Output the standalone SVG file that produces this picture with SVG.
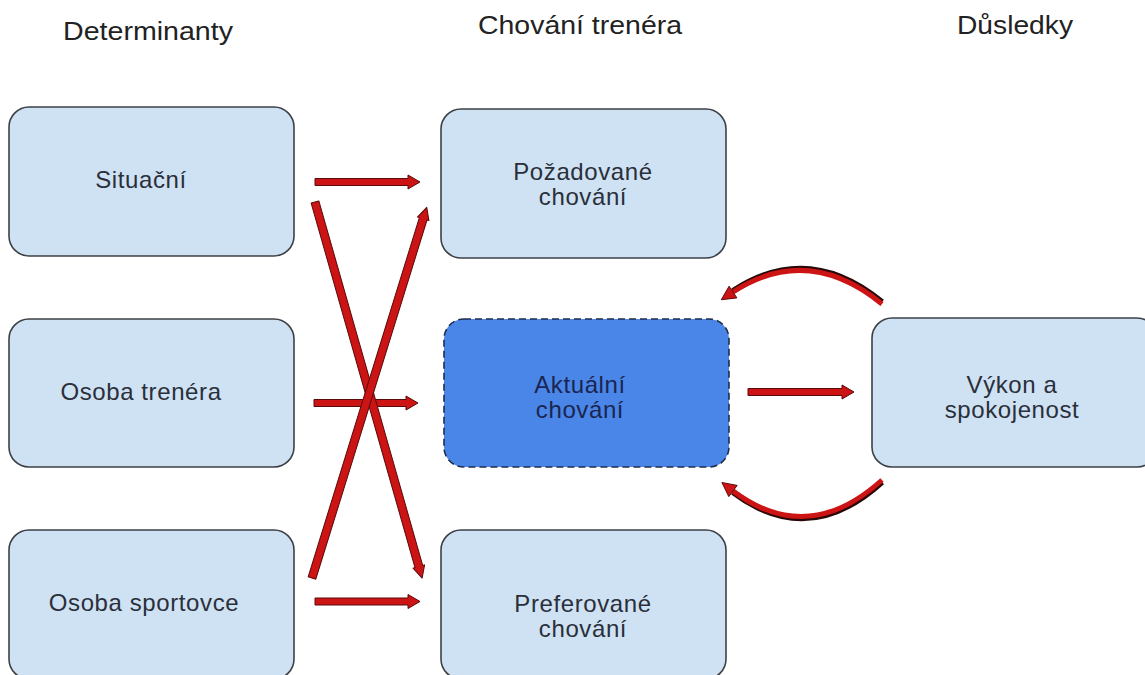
<svg xmlns="http://www.w3.org/2000/svg" width="1145" height="675" viewBox="0 0 1145 675">
<style>
.hdr{font-family:"Liberation Sans",Arial,sans-serif;font-size:25px;fill:#222;text-anchor:middle}
.lbl{font-family:"Liberation Sans",Arial,sans-serif;font-size:24px;letter-spacing:0.6px;fill:#2a2f3a;text-anchor:middle}
.box{fill:#cfe2f3;stroke:#3c4046;stroke-width:1.6}
.act{fill:#4a86e8;stroke:#1f2d4a;stroke-width:1.6;stroke-dasharray:7 4}
.actt{font-family:"Liberation Sans",Arial,sans-serif;font-size:24px;letter-spacing:0.6px;fill:#1a2550;text-anchor:middle}
.arr{fill:#cc1414;stroke:#5a0a0a;stroke-width:1;stroke-linejoin:round}
.cur{fill:none;stroke:#cc1414;stroke-width:5}
.curd{fill:none;stroke:#2a0808;stroke-width:6}
</style>
<rect width="1145" height="675" fill="#ffffff"/>
<g id="headers">
<text class="hdr" x="148" y="40" textLength="170" lengthAdjust="spacingAndGlyphs">Determinanty</text>
<text class="hdr" x="580" y="34" textLength="204" lengthAdjust="spacingAndGlyphs">Chování trenéra</text>
<text class="hdr" x="1015" y="34" textLength="116" lengthAdjust="spacingAndGlyphs">Důsledky</text>
</g>
<g id="n-situacni"><rect class="box" x="9" y="107" width="285" height="149" rx="20"/><text class="lbl" x="141" y="188">Situační</text></g>
<g id="n-trener"><rect class="box" x="9" y="319" width="285" height="148" rx="20"/><text class="lbl" x="141" y="400">Osoba trenéra</text></g>
<g id="n-sportovec"><rect class="box" x="9" y="530" width="285" height="149" rx="20"/><text class="lbl" x="144" y="611">Osoba sportovce</text></g>
<g id="n-pozadovane"><rect class="box" x="441" y="109" width="285" height="149" rx="20"/><text class="lbl" x="583" y="180">Požadované</text><text class="lbl" x="583" y="205">chování</text></g>
<g id="n-aktualni"><rect class="act" x="444" y="319" width="285" height="148" rx="20"/><text class="actt" x="580" y="393">Aktuální</text><text class="actt" x="580" y="418">chování</text></g>
<g id="n-preferovane"><rect class="box" x="441" y="530" width="285" height="149" rx="20"/><text class="lbl" x="583" y="612">Preferované</text><text class="lbl" x="583" y="637">chování</text></g>
<g id="n-vykon"><rect class="box" x="872" y="318" width="285" height="149" rx="20"/><text class="lbl" x="1012" y="393">Výkon a</text><text class="lbl" x="1012" y="418">spokojenost</text></g>
<g id="connectors">
<path class="arr" d="M315,178.5 H408 V175 L420,182 L408,189 V185.5 H315 Z"/>
<path class="arr" d="M314,399.5 H406 V396 L418,403 L406,410 V406.5 H314 Z"/>
<path class="arr" d="M315,598 H408 V594.5 L420,601.5 L408,608.5 V605 H315 Z"/>
<path class="arr" d="M748,388.5 H842 V385 L854,392 L842,399 V395.5 H748 Z"/>
<path class="arr" transform="translate(315,202) rotate(74.1)" d="M0,-4 H379 V-6 L391,0 L379,6 V4 H0 Z"/>
<path class="arr" transform="translate(312,578) rotate(-72.8)" d="M0,-4 H376 V-6 L388,0 L376,6 V4 H0 Z"/>
<path class="curd" d="M882,302 Q808,241.5 733,291"/>
<path class="cur" d="M882,304 Q808,243.5 733,292"/>
<polygon class="arr" points="721.3,299.7 736.9,297.9 729.1,286.2"/>
<path class="curd" d="M882,482 Q808,549 733,492"/>
<path class="cur" d="M882,480 Q808,547 733,491"/>
<polygon class="arr" points="721.9,482.5 737.2,485.4 728.8,496.6"/>
</g>
</svg>
